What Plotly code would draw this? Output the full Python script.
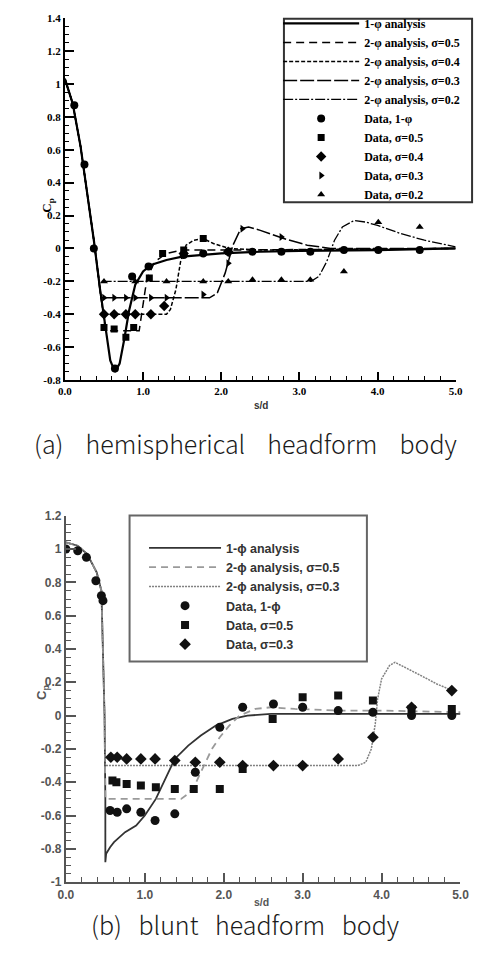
import plotly.graph_objects as go

W, H = 483, 968

# ---------------- (a) hemispherical headform body ----------------
a_1phi_x = [0.0, 0.1, 0.2, 0.3, 0.37, 0.45, 0.52, 0.58, 0.64, 0.7, 0.76, 0.82, 0.9, 1.0, 1.1, 1.3, 1.5, 2.0, 2.5, 3.0, 4.0, 5.0]
a_1phi_y = [1.03, 0.88, 0.62, 0.3, 0.05, -0.25, -0.5, -0.68, -0.75, -0.7, -0.55, -0.38, -0.22, -0.14, -0.1, -0.07, -0.05, -0.03, -0.02, -0.015, -0.01, 0.0]

a_s05_x = [0.0, 0.1, 0.2, 0.3, 0.37, 0.45, 0.52, 0.95, 1.0, 1.05, 1.15, 1.3, 1.5, 2.0, 5.0]
a_s05_y = [1.03, 0.88, 0.62, 0.3, 0.05, -0.25, -0.5, -0.5, -0.35, -0.18, -0.08, -0.03, -0.01, -0.01, 0.0]

a_s04_x = [0.0, 0.1, 0.2, 0.3, 0.37, 0.45, 0.49, 1.3, 1.35, 1.42, 1.48, 1.55, 1.65, 1.77, 1.9, 2.1, 2.5, 5.0]
a_s04_y = [1.03, 0.88, 0.62, 0.3, 0.05, -0.25, -0.4, -0.4, -0.37, -0.25, -0.08, 0.02, 0.05, 0.06, 0.03, 0.0, -0.01, 0.0]

a_s03_x = [0.0, 0.1, 0.2, 0.3, 0.37, 0.46, 1.85, 1.95, 2.05, 2.15, 2.25, 2.35, 2.5, 2.8, 3.1, 3.4, 5.0]
a_s03_y = [1.03, 0.88, 0.62, 0.3, 0.05, -0.3, -0.3, -0.27, -0.15, 0.02, 0.12, 0.13, 0.11, 0.06, 0.02, 0.0, 0.0]

a_s02_x = [0.0, 0.1, 0.2, 0.3, 0.37, 0.44, 3.15, 3.25, 3.35, 3.45, 3.55, 3.7, 3.85, 4.0, 4.3, 4.6, 5.0]
a_s02_y = [1.03, 0.88, 0.62, 0.3, 0.05, -0.2, -0.2, -0.17, -0.08, 0.05, 0.13, 0.17, 0.16, 0.14, 0.09, 0.05, 0.01]

a_d1_x = [0.12, 0.25, 0.37, 0.64, 0.86, 1.07, 1.52, 1.77, 2.09, 2.4, 2.77, 3.14, 3.57, 4.01, 4.54]
a_d1_y = [0.87, 0.51, 0.0, -0.73, -0.17, -0.11, -0.04, -0.03, -0.02, -0.02, -0.02, -0.02, -0.01, -0.01, -0.01]
a_d05_x = [0.5, 0.63, 0.78, 0.88, 1.08, 1.25, 1.52, 1.77]
a_d05_y = [-0.48, -0.49, -0.54, -0.48, -0.18, -0.03, -0.01, 0.06]
a_d04_x = [0.5, 0.63, 0.78, 0.9, 1.1, 1.27, 1.52, 2.09]
a_d04_y = [-0.4, -0.4, -0.4, -0.4, -0.4, -0.35, -0.03, -0.02]
a_d03_x = [0.5, 0.63, 0.78, 0.9, 1.1, 1.3, 1.77, 2.09, 2.27, 2.77]
a_d03_y = [-0.3, -0.3, -0.3, -0.3, -0.3, -0.3, -0.28, -0.09, 0.12, 0.07]
a_d02_x = [0.5, 0.9, 1.3, 1.77, 2.09, 2.4, 2.77, 3.14, 3.57, 4.01, 4.54]
a_d02_y = [-0.2, -0.2, -0.2, -0.2, -0.2, -0.19, -0.19, -0.19, -0.14, 0.16, 0.13]

a_ytick_vals = [1.4, 1.2, 1.0, 0.8, 0.6, 0.4, 0.2, 0.0, -0.2, -0.4, -0.6, -0.8]
a_ytick_text = ["1.4", "1.2", "1", "0.8", "0.6", "0.4", "0.2", "0", "-0.2", "-0.4", "-0.6", "-0.8"]
x_tick_vals = [0, 1, 2, 3, 4, 5]
x_tick_text = ["0.0", "1.0", "2.0", "3.0", "4.0", "5.0"]

# ---------------- (b) blunt headform body ----------------
b_1phi_x = [0.0, 0.15, 0.27, 0.39, 0.45, 0.46, 0.48, 0.49, 0.5, 0.5, 0.51, 0.56, 0.61, 0.75, 0.89, 1.0, 1.14, 1.26, 1.38, 1.55, 1.71, 1.9, 2.11, 2.3, 2.6, 3.0, 4.0, 5.0]
b_1phi_y = [1.04, 1.02, 0.97, 0.86, 0.75, 0.59, 0.3, 0.0, -0.5, -0.88, -0.83, -0.79, -0.76, -0.7, -0.66, -0.6, -0.5, -0.38, -0.26, -0.18, -0.12, -0.06, -0.02, 0.0, 0.01, 0.01, 0.01, 0.01]

b_s05_x = [0.0, 0.15, 0.27, 0.39, 0.45, 0.46, 0.48, 0.49, 0.5, 1.46, 1.55, 1.65, 1.75, 1.85, 1.95, 2.07, 2.2, 2.4, 2.6, 2.9, 3.5, 4.0, 5.0]
b_s05_y = [1.04, 1.02, 0.97, 0.86, 0.75, 0.59, 0.3, 0.0, -0.5, -0.5, -0.47, -0.4, -0.3, -0.2, -0.13, -0.06, 0.0, 0.04, 0.05, 0.04, 0.03, 0.03, 0.02]

b_s03_x = [0.0, 0.15, 0.27, 0.39, 0.45, 0.46, 0.48, 0.49, 0.5, 3.7, 3.8, 3.87, 3.92, 3.95, 4.0, 4.1, 4.17, 4.3, 4.5, 4.7, 4.9]
b_s03_y = [1.04, 1.02, 0.97, 0.86, 0.75, 0.59, 0.3, 0.0, -0.3, -0.3, -0.28, -0.2, -0.05, 0.1, 0.22, 0.3, 0.32, 0.29, 0.24, 0.19, 0.15]

b_d1_x = [0.0, 0.15, 0.26, 0.38, 0.45, 0.47, 0.56, 0.65, 0.77, 0.95, 1.13, 1.38, 1.64, 1.95, 2.24, 2.63, 3.0, 3.45, 3.89, 4.38, 4.89]
b_d1_y = [1.0, 0.99, 0.95, 0.81, 0.72, 0.69, -0.57, -0.58, -0.56, -0.58, -0.63, -0.59, -0.34, -0.07, 0.05, 0.07, 0.05, 0.03, 0.02, 0.0, 0.0]
b_d05_x = [0.59, 0.64, 0.77, 0.95, 1.14, 1.38, 1.62, 1.95, 2.24, 2.62, 3.0, 3.45, 3.89, 4.38, 4.89]
b_d05_y = [-0.39, -0.4, -0.41, -0.42, -0.43, -0.44, -0.44, -0.44, -0.32, -0.02, 0.11, 0.12, 0.09, 0.04, 0.04]
b_d03_x = [0.57, 0.65, 0.77, 0.95, 1.13, 1.38, 1.64, 1.95, 2.24, 2.63, 3.0, 3.45, 3.89, 4.38, 4.89]
b_d03_y = [-0.25, -0.25, -0.26, -0.26, -0.26, -0.27, -0.28, -0.28, -0.3, -0.3, -0.3, -0.26, -0.13, 0.05, 0.15]

b_ytick_vals = [1.2, 1.0, 0.8, 0.6, 0.4, 0.2, 0.0, -0.2, -0.4, -0.6, -0.8, -1.0]
b_ytick_text = ["1.2", "1", "0.8", "0.6", "0.4", "0.2", "0", "-0.2", "-0.4", "-0.6", "-0.8", "-1"]

fig = go.Figure()

serif = "Liberation Serif"
sans = "Liberation Sans"


def L(x, y, name, dash, width, color, xa, ya, leg):
    fig.add_trace(go.Scatter(x=x, y=y, mode="lines", name=name,
                             line=dict(color=color, width=width, dash=dash, shape="linear"),
                             xaxis=xa, yaxis=ya, legend=leg))


def M(x, y, name, symbol, size, color, xa, ya, leg):
    fig.add_trace(go.Scatter(x=x, y=y, mode="markers", name=name,
                             marker=dict(symbol=symbol, size=size, color=color, line=dict(width=0)),
                             xaxis=xa, yaxis=ya, legend=leg))


L(a_1phi_x, a_1phi_y, "1-φ analysis", "solid", 2.2, "black", "x", "y", "legend")
L(a_s05_x, a_s05_y, "2-φ analysis, σ=0.5", "8px,5px", 1.5, "black", "x", "y", "legend")
L(a_s04_x, a_s04_y, "2-φ analysis, σ=0.4", "4px,2px", 1.5, "black", "x", "y", "legend")
L(a_s03_x, a_s03_y, "2-φ analysis, σ=0.3", "14px,3px", 1.5, "black", "x", "y", "legend")
L(a_s02_x, a_s02_y, "2-φ analysis, σ=0.2", "10px,2px,2px,2px", 1.3, "black", "x", "y", "legend")
M(a_d1_x, a_d1_y, "Data, 1-φ", "circle", 8, "black", "x", "y", "legend")
M(a_d05_x, a_d05_y, "Data, σ=0.5", "square", 7, "black", "x", "y", "legend")
M(a_d04_x, a_d04_y, "Data, σ=0.4", "diamond", 8, "black", "x", "y", "legend")
M(a_d03_x, a_d03_y, "Data, σ=0.3", "triangle-right", 7, "black", "x", "y", "legend")
M(a_d02_x, a_d02_y, "Data, σ=0.2", "triangle-up", 7, "black", "x", "y", "legend")

L(b_1phi_x, b_1phi_y, "1-ϕ analysis", "solid", 1.8, "#333333", "x2", "y2", "legend2")
L(b_s05_x, b_s05_y, "2-ϕ analysis, σ=0.5", "7px,5px", 1.8, "#9a9a9a", "x2", "y2", "legend2")
L(b_s03_x, b_s03_y, "2-ϕ analysis, σ=0.3", "2px,1px", 1.5, "#808080", "x2", "y2", "legend2")
M(b_d1_x, b_d1_y, "Data, 1-ϕ", "circle", 9, "#111111", "x2", "y2", "legend2")
M(b_d05_x, b_d05_y, "Data, σ=0.5", "square", 8, "#111111", "x2", "y2", "legend2")
M(b_d03_x, b_d03_y, "Data, σ=0.3", "diamond", 9, "#111111", "x2", "y2", "legend2")


def px(v):
    return v / W


def py(v):
    return 1 - v / H


axis_common = dict(showgrid=False, zeroline=False, showline=True, ticks="inside", mirror=False)

fig.update_layout(
    width=W, height=H,
    margin=dict(l=0, r=0, t=0, b=0),
    paper_bgcolor="white", plot_bgcolor="white",
    xaxis=dict(domain=[px(59), px(464)], range=[0, 5], anchor="y",
               tickvals=x_tick_vals, ticktext=x_tick_text,
               linecolor="black", linewidth=2, tickcolor="black", ticklen=8, tickwidth=1.5,
               minor=dict(ticks="inside", ticklen=4, tickwidth=1.2, dtick=0.2, tick0=0, tickcolor="black"),
               tickfont=dict(family=serif, size=11, color="black", weight="bold"), **axis_common),
    yaxis=dict(domain=[py(378.6), py(11.2)], range=[-0.8, 1.4], anchor="x",
               tickvals=a_ytick_vals, ticktext=a_ytick_text,
               linecolor="black", linewidth=2, tickcolor="black", ticklen=9, tickwidth=1.5,
               minor=dict(ticks="inside", ticklen=4, tickwidth=1.2, dtick=0.05, tick0=0, tickcolor="black"),
               tickfont=dict(family=serif, size=11, color="black", weight="bold"), **axis_common),
    xaxis2=dict(domain=[px(60), px(469)], range=[0, 5], anchor="y2",
                tickvals=x_tick_vals, ticktext=x_tick_text,
                linecolor="#555555", linewidth=2, tickcolor="#555555", ticklen=9, tickwidth=1.5,
                minor=dict(ticks="inside", ticklen=5, tickwidth=1.2, dtick=0.2, tick0=0, tickcolor="#555555"),
                tickfont=dict(family=sans, size=12, color="#555555", weight="bold"), **axis_common),
    yaxis2=dict(domain=[py(888), py(516.2)], range=[-1, 1.2], anchor="x2",
                tickvals=b_ytick_vals, ticktext=b_ytick_text,
                linecolor="#555555", linewidth=2, tickcolor="#555555", ticklen=10, tickwidth=1.5,
                minor=dict(ticks="inside", ticklen=5, tickwidth=1.2, dtick=0.05, tick0=0, tickcolor="#555555"),
                tickfont=dict(family=sans, size=12, color="#555555", weight="bold"), **axis_common),
    legend=dict(x=px(280), y=py(2), xanchor="left", yanchor="top",
                bgcolor="rgba(0,0,0,0)", borderwidth=0, itemwidth=76, tracegroupgap=0,
                font=dict(family=serif, size=12, color="black", weight="bold")),
    legend2=dict(x=px(141), y=py(534), xanchor="left", yanchor="top",
                 bgcolor="rgba(0,0,0,0)", borderwidth=0, itemwidth=72, tracegroupgap=0,
                 font=dict(family=sans, size=12.5, color="#333333", weight="bold")),
    showlegend=True,
)

# legend frames
fig.add_shape(type="rect", xref="paper", yref="paper",
              x0=px(286), x1=px(481), y0=py(198), y1=py(12),
              line=dict(color="#333333", width=2), fillcolor="rgba(0,0,0,0)", layer="above")
fig.add_shape(type="rect", xref="paper", yref="paper",
              x0=px(126), x1=px(372), y0=py(664), y1=py(516),
              line=dict(color="#666666", width=2), fillcolor="rgba(0,0,0,0)", layer="above")

cap_font = dict(family="Noto Sans CJK KR", size=25, color="#1a1a1a", weight=300)

# axis titles and captions
fig.add_annotation(text="C<sub>p</sub>", x=px(30), y=py(192), xref="paper", yref="paper",
                   textangle=-90, showarrow=False,
                   font=dict(family=serif, size=13, color="black", weight="bold"))
fig.add_annotation(text="s/d", x=px(262), y=py(404), xref="paper", yref="paper", showarrow=False,
                   font=dict(family=sans, size=10, color="#333333", weight="bold"))
fig.add_annotation(text="(a)    hemispherical    headform    body", x=px(246), y=py(442), xref="paper", yref="paper",
                   showarrow=False, font=cap_font)

fig.add_annotation(text="C<sub>p</sub>", x=px(25), y=py(705), xref="paper", yref="paper",
                   textangle=-90, showarrow=False,
                   font=dict(family=sans, size=13, color="#555555", weight="bold"))
fig.add_annotation(text="s/d", x=px(263), y=py(916), xref="paper", yref="paper", showarrow=False,
                   font=dict(family=sans, size=10.5, color="#555555", weight="bold"))
fig.add_annotation(text="(b)   blunt   headform   body", x=px(246), y=py(951), xref="paper", yref="paper",
                   showarrow=False, font=cap_font)

fig.write_html("out.html")
